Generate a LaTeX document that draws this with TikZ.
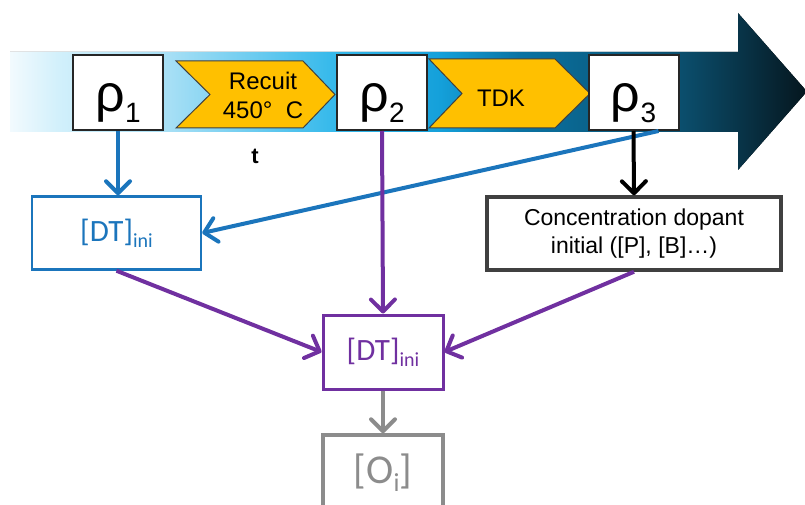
\documentclass[tikz,border=0pt]{standalone}
\usepackage{fontspec}
\setmainfont{Liberation Sans}
\newfontfamily\calibri{Carlito}
\usepackage{tikz}
\usetikzlibrary{arrows.meta}

\definecolor{tlA}{HTML}{F2FAFE}
\definecolor{tlB}{HTML}{D2F0FB}
\definecolor{tlC}{HTML}{A6DFF5}
\definecolor{tlD}{HTML}{38BAEB}
\definecolor{tlE}{HTML}{14A0DA}
\definecolor{tlF}{HTML}{0A72A2}
\definecolor{tlG}{HTML}{0B4F6E}
\definecolor{tlH}{HTML}{05161E}
\definecolor{dtblue}{HTML}{1B75BC}
\definecolor{dtpurple}{HTML}{7030A0}
\definecolor{oigray}{HTML}{8C8C8C}
\definecolor{recuitorange}{HTML}{FFC000}

\pgfdeclarehorizontalshading{timeline}{100bp}{color(0bp)=(tlA); color(25bp)=(tlA);
  color(28bp)=(tlB); color(35bp)=(tlC); color(45bp)=(tlD); color(52bp)=(tlE);
  color(57bp)=(tlF); color(67bp)=(tlG); color(75bp)=(tlH); color(100bp)=(tlH)}

\newcommand{\rhosub}[1]{{\fontsize{52}{52}\selectfont ρ}\raisebox{-11pt}{\fontsize{28}{28}\selectfont #1}}
\newcommand{\dtini}{{\calibri\fontsize{31}{31}\selectfont [DT]\raisebox{-6pt}{\fontsize{20}{20}\selectfont ini}}}

\tikzset{
  rhobox/.style={draw=black!85, line width=2pt, fill=white, inner sep=0pt,
    minimum width=90pt, minimum height=75pt, text height=49pt, text depth=10pt},
  chevron/.style={fill=recuitorange, draw=black!75, line width=1pt},
  steptext/.style={font=\fontsize{24}{29}\selectfont, align=center, inner sep=0pt},
  dtbox/.style={draw, fill=white, inner sep=0pt, minimum height=73pt},
  conn/.style={line width=4pt, -{Straight Barb[length=12pt,width=24pt,round]}}
}

\begin{document}
\begin{tikzpicture}[x=1pt,y=-1pt]
	\useasboundingbox (0,0) rectangle (805,505);
	\clip (0,0) rectangle (805,505);
	\fill[shading=timeline] (10,52) -- (738,52) -- (738,13) -- (807,91.5) -- (738,170) -- (738,132) -- (10,132) -- cycle;
	\filldraw[chevron] (176,61) -- (303,61) -- (335,94.5) -- (303,128) -- (176,128) -- (210,94.5) -- cycle;
	\filldraw[chevron] (429,59) -- (555,59) -- (590,93.5) -- (555,128) -- (429,128) -- (462,93.5) -- cycle;
	\node[steptext] (recuit) at (263,95) {Recuit\\450°~~C};
	\node[steptext] (tdk) at (501,98) {TDK};
	\node[rhobox] (rho1) at (118,92.5) {\rhosub{1}};
	\node[rhobox] (rho2) at (382,92.5) {\rhosub{2}};
	\node[rhobox] (rho3) at (633.5,92.5) {\rhosub{3}};
	\node[font=\fontsize{22}{22}\selectfont\bfseries] (tlabel) at (255,156) {t};

	\node[dtbox, draw=dtblue, text=dtblue, line width=2.5pt, minimum width=169pt] (dtA) at (116.5,233) {\dtini};
	\node[dtbox, draw=black!75, line width=3.5pt, minimum width=294pt, align=center,
	  font=\fontsize{23}{28}\selectfont] (conc) at (634,233.5) {Concentration dopant\\initial ([P], [B]…)};
	\node[dtbox, draw=dtpurple, text=dtpurple, line width=3pt, minimum width=120pt, minimum height=74pt] (dtB) at (383,352) {\dtini};
	\node[dtbox, draw=oigray, text=oigray, line width=3.5pt, minimum width=120pt, minimum height=75pt] (oi) at (383,472.5)
	  {\calibri\fontsize{41}{41}\selectfont [O\raisebox{-8pt}{\fontsize{26}{26}\selectfont i}]};

	\draw[conn, dtblue] (rho1.south) -- (rho1.south |- dtA.north);
	\draw[conn, dtblue] ([xshift=-21pt]rho3.south east) -- (dtA.east);
	\draw[conn, dtpurple] (rho2.south) -- (dtB.north);
	\draw[conn, black] (rho3.south) -- (conc.north);
	\draw[conn, dtpurple] (dtA.south) -- (dtB.west);
	\draw[conn, dtpurple] (conc.south) -- (dtB.east);
	\draw[conn, oigray] (dtB.south) -- (oi.north);
\end{tikzpicture}
\end{document}
